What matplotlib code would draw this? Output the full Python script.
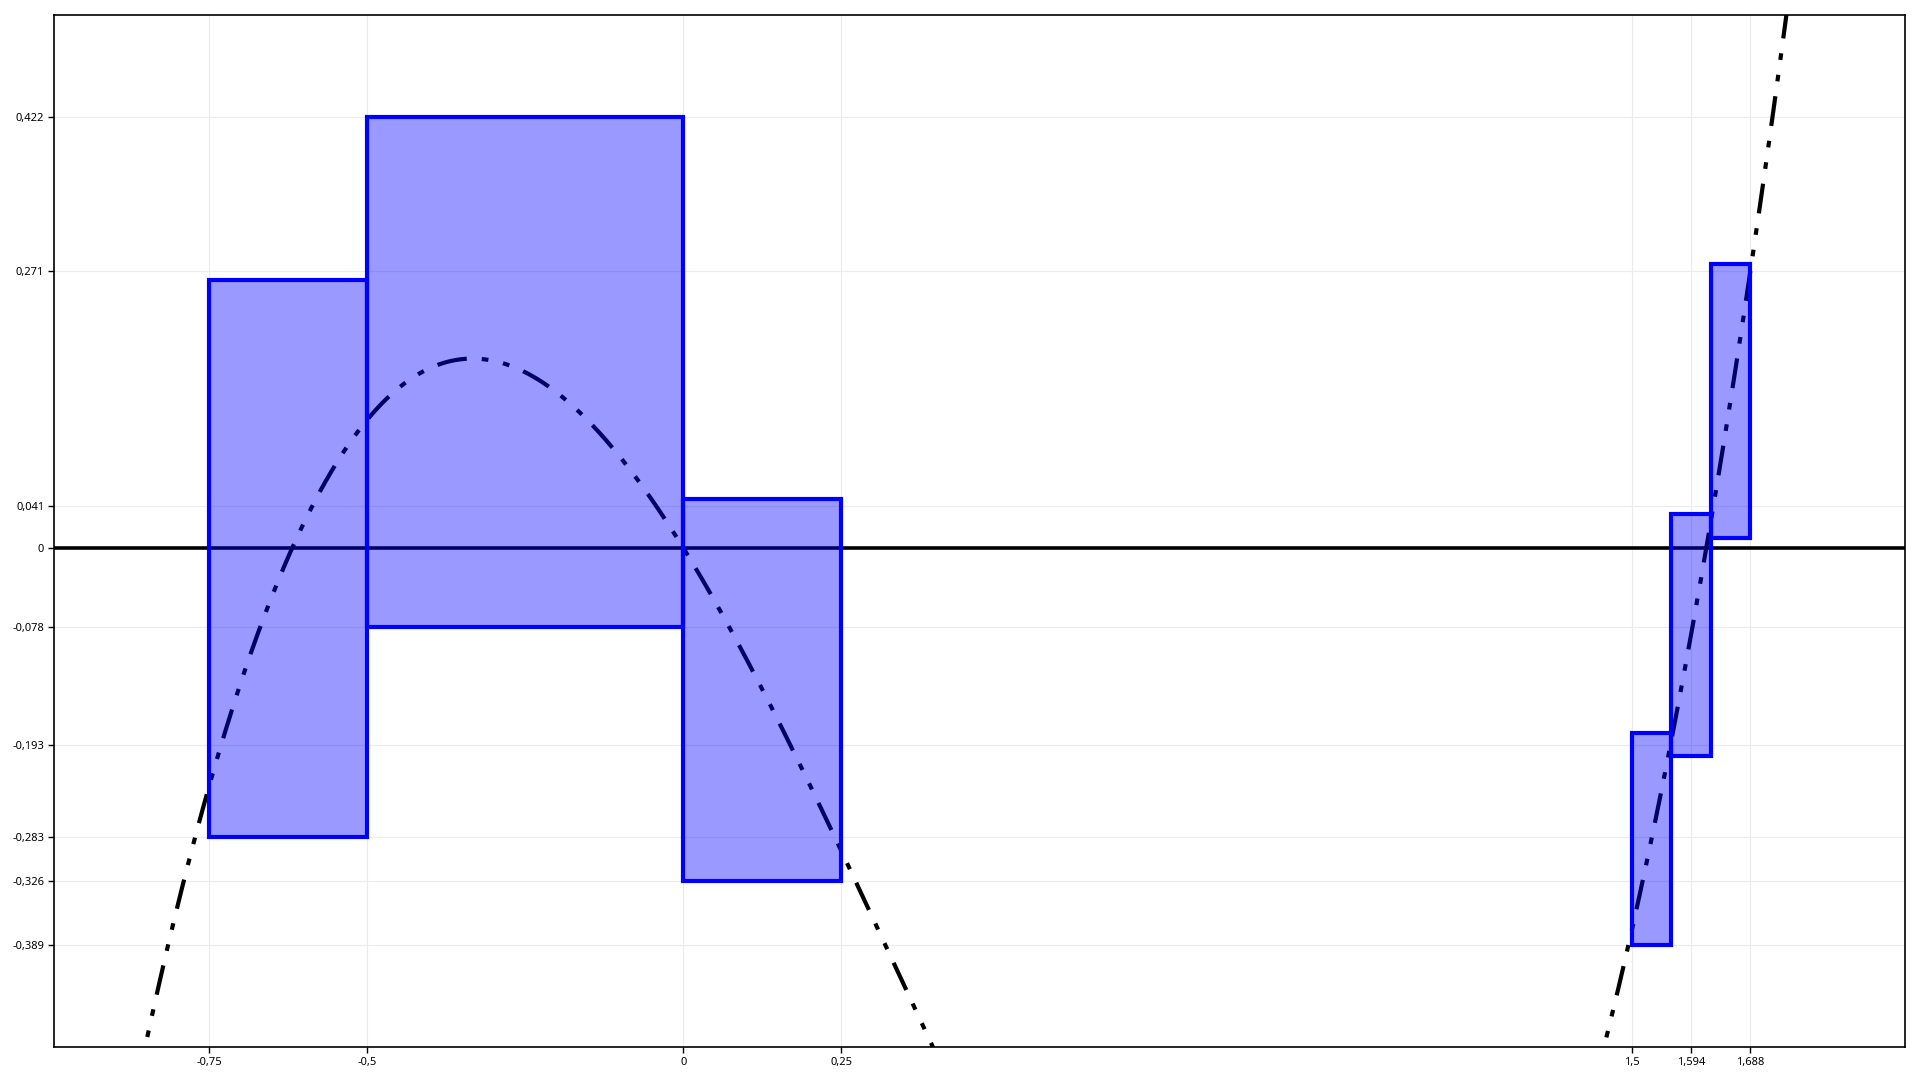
import numpy as np
import matplotlib
matplotlib.use("Agg")
import matplotlib.pyplot as plt
from matplotlib.patches import Rectangle

### enclosure boxes of f over small x intervals, plus the curve itself

# curve f(x) = x^3 - x^2 - x  (coefficients, highest power first)
curve_coeffs = [1, -1, -1, 0]

# boxes: x interval and y interval
box_x_lo = [-0.75, -0.5, 0.0, 1.5, 1.5625, 1.625]
box_x_hi = [-0.5, 0.0, 0.25, 1.5625, 1.625, 1.6875]
box_y_lo = [-0.283, -0.078, -0.326, -0.389, -0.204, 0.0098]
box_y_hi = [0.2625, 0.422, 0.048, -0.182, 0.033, 0.2776]

x_ticks = [-0.75, -0.5, 0, 0.25, 1.5, 1.59375, 1.6875]
x_tick_labels = ["-0,75", "-0,5", "0", "0,25", "1,5", "1,594", "1,688"]
y_ticks = [0.422, 0.271, 0.041, 0, -0.078, -0.193, -0.283, -0.326, -0.389]
y_tick_labels = ["0,422", "0,271", "0,041", "0", "-0,078", "-0,193", "-0,283", "-0,326", "-0,389"]

plt.rcParams["font.family"] = ["Noto Sans", "DejaVu Sans"]

fig = plt.figure(figsize=(19.2, 10.8), dpi=100)
ax = fig.add_axes([0.0281, 0.0306, 0.9642, 0.9558])

xmin = min(box_x_lo) - 0.245
xmax = max(box_x_hi) + 0.245
ymin = min(box_y_lo) - 0.1
ymax = max(box_y_hi) + 0.1

# the function curve
xs = np.linspace(xmin, xmax, 2000)
ys = np.polyval(curve_coeffs, xs)
ax.plot(xs, ys, color="black", linewidth=3, dashes=(7.2, 3.6, 1.6, 3.6, 1.6, 3.6), zorder=2)

# zero line
ax.axhline(0, color="black", linewidth=2.6, zorder=2)

# boxes on top, semi transparent
for i in range(len(box_x_lo)):
    w = box_x_hi[i] - box_x_lo[i]
    h = box_y_hi[i] - box_y_lo[i]
    ax.add_patch(Rectangle((box_x_lo[i], box_y_lo[i]), w, h,
                           facecolor=(0, 0, 1, 0.4), edgecolor="blue", linewidth=3, zorder=3))

ax.set_xlim(xmin, xmax)
ax.set_ylim(ymin, ymax)

ax.set_xticks(x_ticks)
ax.set_xticklabels(x_tick_labels)
ax.set_yticks(y_ticks)
ax.set_yticklabels(y_tick_labels)
ax.tick_params(labelsize=8, length=4, width=1, colors="black", pad=3)
ax.grid(True, color="#ebebeb", linewidth=0.8, zorder=0)
ax.set_axisbelow(True)
for s in ax.spines.values():
    s.set_linewidth(1.2)
    s.set_color("black")

fig.savefig("out.png", dpi=100)
